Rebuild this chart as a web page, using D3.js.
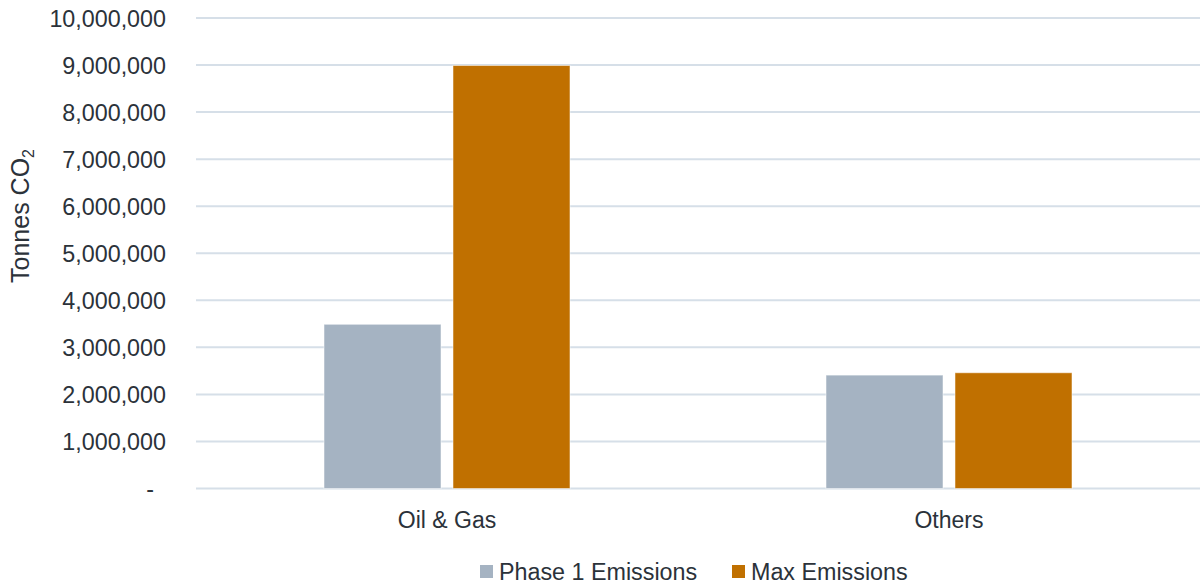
<!DOCTYPE html>
<html>
<head>
<meta charset="utf-8">
<script src="https://cdn.jsdelivr.net/npm/d3@7"></script>
<style>
  html, body { margin: 0; padding: 0; background: #ffffff; }
  svg text { font-family: "Liberation Sans", Arial, sans-serif; fill: #2b323a; }
</style>
</head>
<body>
<svg id="chart" width="1200" height="584"></svg>
<script>
// Emissions by sector (tonnes CO2)
const categories = ["Oil & Gas", "Others"];
const seriesNames = ["Phase 1 Emissions", "Max Emissions"];
const phase1Values = [3490000, 2410000];
const maxValues = [8990000, 2460000];
const yTicks = [0, 1000000, 2000000, 3000000, 4000000, 5000000, 6000000, 7000000, 8000000, 9000000, 10000000];
const seriesColors = ["#a5b3c2", "#c07000"];

const rows = categories.map((c, i) => ({
  category: c,
  values: [
    { series: seriesNames[0], value: phase1Values[i] },
    { series: seriesNames[1], value: maxValues[i] }
  ]
}));

const svg = d3.select("#chart");
const margin = { top: 18, right: 0, bottom: 96, left: 196 };
const width = 1200;
const height = 584;

const x0 = d3.scaleBand()
  .domain(categories)
  .range([margin.left, width - margin.right])
  .paddingInner(0.51)
  .paddingOuter(0.255);

const x1 = d3.scaleBand()
  .domain(seriesNames)
  .range([0, x0.bandwidth()])
  .paddingInner(0.093);

const y = d3.scaleLinear()
  .domain([0, 10000000])
  .range([height - margin.bottom + 0.5, margin.top]);

const color = d3.scaleOrdinal().domain(seriesNames).range(seriesColors);

// Horizontal gridlines
svg.append("g")
  .selectAll("line")
  .data(yTicks)
  .join("line")
  .attr("x1", margin.left)
  .attr("x2", width - margin.right)
  .attr("y1", d => y(d))
  .attr("y2", d => y(d))
  .attr("stroke", "#d6dfe8")
  .attr("stroke-width", 2);

// Y axis labels
const fmt = d3.format(",");
const yAxis = d3.axisLeft(y)
  .tickValues(yTicks)
  .tickSize(0)
  .tickPadding(0)
  .tickFormat(d => d === 0 ? "-" : fmt(d));

const yG = svg.append("g")
  .attr("transform", `translate(166,0)`)
  .call(yAxis);
yG.select(".domain").remove();
yG.selectAll("text")
  .attr("font-size", 23.3)
  .attr("fill", "#2b323a")
  .attr("dy", "0.36em")
  .attr("dx", d => d === 0 ? -12 : 0);

// Bars
const groups = svg.append("g")
  .selectAll("g")
  .data(rows)
  .join("g")
  .attr("transform", d => `translate(${x0(d.category)},0)`);

groups.selectAll("rect")
  .data(d => d.values)
  .join("rect")
  .attr("x", d => x1(d.series))
  .attr("width", x1.bandwidth())
  .attr("y", d => y(d.value))
  .attr("height", d => y(0) - y(d.value))
  .attr("fill", d => color(d.series))
  .attr("stroke", "#ffffff")
  .attr("stroke-opacity", 0.5)
  .attr("stroke-width", 1);

// Category labels
svg.append("g")
  .selectAll("text")
  .data(categories)
  .join("text")
  .attr("x", d => x0(d) + x0.bandwidth() / 2)
  .attr("y", 528)
  .attr("text-anchor", "middle")
  .attr("font-size", 23)
  .text(d => d);

// Y axis title
const yTitle = svg.append("text")
  .attr("transform", "translate(29,216) rotate(-90)")
  .attr("text-anchor", "middle")
  .attr("font-size", 25);
yTitle.append("tspan").text("Tonnes CO");
yTitle.append("tspan")
  .attr("font-size", 16)
  .attr("dy", 5)
  .text("2");

// Legend
const legendItems = [
  { name: seriesNames[0], x: 480 },
  { name: seriesNames[1], x: 732 }
];
const legend = svg.append("g")
  .selectAll("g")
  .data(legendItems)
  .join("g")
  .attr("transform", d => `translate(${d.x},0)`);
legend.append("rect")
  .attr("x", 0)
  .attr("y", 565)
  .attr("width", 13)
  .attr("height", 13)
  .attr("fill", d => color(d.name));
legend.append("text")
  .attr("x", 19)
  .attr("y", 580)
  .attr("font-size", 23.3)
  .text(d => d.name);
</script>
</body>
</html>
